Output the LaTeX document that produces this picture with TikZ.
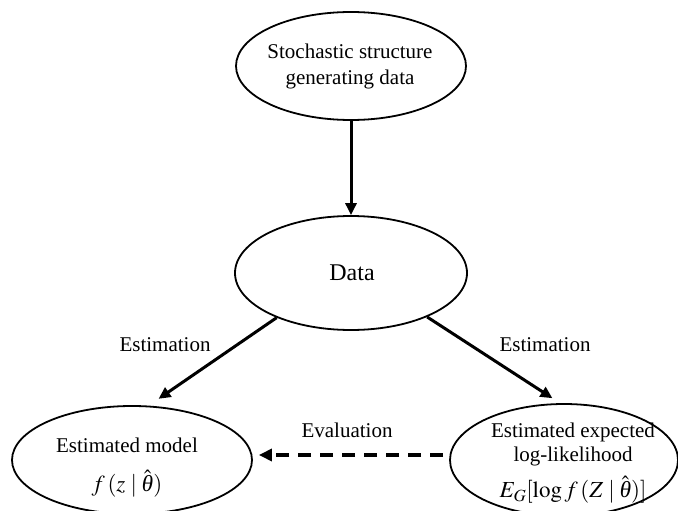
\documentclass[tikz,border=0pt]{standalone}
\usepackage{mathptmx}
\usepackage{fontspec}
\setmainfont{Liberation Serif}
\usetikzlibrary{shapes.geometric,arrows.meta}
\newcommand{\thhat}{\hat{\mbox{\itshape θ}}}
\begin{document}
\begin{tikzpicture}[x=1pt,y=-1pt]
\tikzset{
  ell/.style={ellipse, draw, line width=1.8pt, inner sep=0pt},
  lbl/.style={font=\fontsize{21}{26}\selectfont, align=center, inner sep=0pt},
  mth/.style={font=\fontsize{23}{27}\selectfont, inner sep=0pt},
  arr/.style={line width=3pt, -{Triangle[length=12pt,width=11pt]}},
  dasharr/.style={line width=3.5pt, dash pattern=on 13pt off 9pt, -{Triangle[length=13pt,width=12pt]}},
}
\useasboundingbox (0,0) rectangle (678,511);
% ellipses
\node[ell, minimum width=230pt, minimum height=108pt] (top) at (351,66) {};
\node[ell, minimum width=232pt, minimum height=114pt] (data) at (351,273) {};
\node[ell, minimum width=240pt, minimum height=108pt] (left) at (132,460) {};
\node[ell, minimum width=228pt, minimum height=112pt] (right) at (564,460) {};
% texts
\node[lbl] (topt) at (350,66) {Stochastic structure\\generating data};
\node[lbl, font=\fontsize{24}{28}\selectfont] (datat) at (352,273) {Data};
\node[lbl] (leftt) at (127,445) {Estimated model};
\node[mth] (leftm) at (127,484) {$f\,(z\mid\thhat)$};
\node[lbl, font=\fontsize{21}{24}\selectfont] (rightt) at (573,444) {Estimated expected\\log-likelihood};
\node[mth] (rightm) at (573,490) {$E_G[\log f\,(Z\mid\thhat)]$};
% connectors
\draw[arr] (top) -- (data);
\draw[arr, shorten >=12pt] (data.211) -- (left.73);
\draw[arr, shorten >=9pt] (data.330.6) -- (right.94);
\draw[dasharr, shorten <=6pt, shorten >=6pt] ([yshift=5pt]right.west) -- ([yshift=5pt]left.east);
% labels
\node[lbl] (est1) at (165,345) {Estimation};
\node[lbl] (est2) at (545,345) {Estimation};
\node[lbl] (eval) at (347,430) {Evaluation};
\end{tikzpicture}
\end{document}
